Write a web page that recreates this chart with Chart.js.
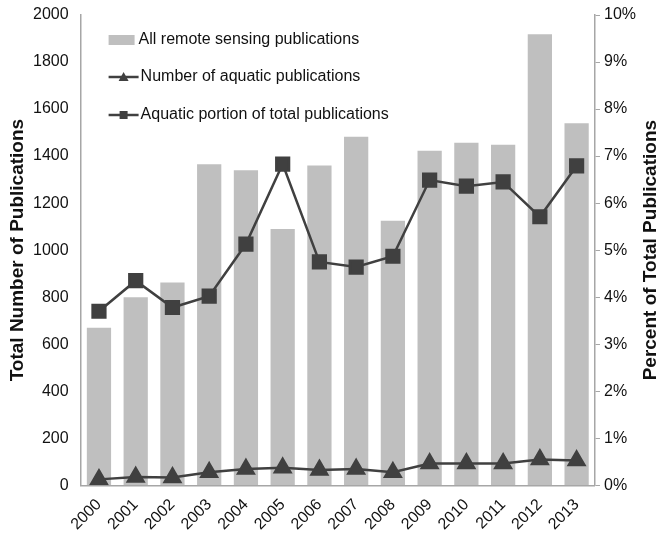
<!DOCTYPE html>
<html>
<head>
<meta charset="utf-8">
<script src="https://cdn.jsdelivr.net/npm/chart.js@4"></script>
<style>
  html, body { margin: 0; padding: 0; background: #fff; }
  #wrap { width: 665px; height: 542px; }
</style>
</head>
<body>
<div id="wrap"><canvas id="grafico" width="665" height="542"></canvas></div>
<script>
const years = ['2000', '2001', '2002', '2003', '2004', '2005', '2006', '2007', '2008', '2009', '2010', '2011', '2012', '2013'];
const totalPubs = [670, 800, 862, 1365, 1340, 1090, 1360, 1482, 1125, 1423, 1457, 1448, 1918, 1540];
const aquaticPubs = [25, 35, 33, 55, 69, 74, 65, 69, 55, 92, 93, 93, 110, 105];
const aquaticShare = [3.70, 4.35, 3.78, 4.02, 5.13, 6.83, 4.75, 4.64, 4.87, 6.49, 6.36, 6.45, 5.71, 6.79];
const leftTicks = ['0', '200', '400', '600', '800', '1000', '1200', '1400', '1600', '1800', '2000'];
const rightTicks = ['0%', '1%', '2%', '3%', '4%', '5%', '6%', '7%', '8%', '9%', '10%'];

const fonte = 'Arial, "Liberation Sans", sans-serif';
const escuro = '#404040';

// legenda desenhada à mão dentro da área do gráfico + títulos dos eixos
const extras = {
	id: 'extras',
	afterDraw(chart) {
		const ctx = chart.ctx;
		const area = chart.chartArea;
		ctx.save();
		ctx.font = '16px ' + fonte;
		ctx.fillStyle = '#111';
		ctx.textBaseline = 'middle';
		const x0 = area.left + 28;
		const ys = [area.top + 25, area.top + 62, area.top + 100];
		const nomes = chart.data.datasets.map(d => d.label);

		ctx.fillStyle = '#bfbfbf';
		ctx.fillRect(x0, ys[0] - 5, 26, 10);
		ctx.strokeStyle = escuro;
		ctx.lineWidth = 2.5;
		for (let i = 1; i < 3; i++) {
			ctx.beginPath();
			ctx.moveTo(x0, ys[i]);
			ctx.lineTo(x0 + 30, ys[i]);
			ctx.stroke();
		}
		ctx.fillStyle = escuro;
		ctx.beginPath();
		ctx.moveTo(x0 + 15, ys[1] - 5);
		ctx.lineTo(x0 + 20, ys[1] + 4);
		ctx.lineTo(x0 + 10, ys[1] + 4);
		ctx.closePath();
		ctx.fill();
		ctx.fillRect(x0 + 11, ys[2] - 4, 8, 8);

		ctx.fillStyle = '#111';
		ctx.fillText(nomes[0], x0 + 30, ys[0]);
		ctx.fillText(nomes[1], x0 + 32, ys[1]);
		ctx.fillText(nomes[2], x0 + 32, ys[2]);

		// os dois títulos, lidos de baixo para cima
		ctx.font = 'bold 19px ' + fonte;
		ctx.textAlign = 'center';
		const meio = (area.top + area.bottom) / 2;
		ctx.save();
		ctx.translate(18, meio);
		ctx.rotate(-Math.PI / 2);
		ctx.fillText('Total Number of Publications', 0, 0);
		ctx.restore();
		ctx.translate(651, meio);
		ctx.rotate(-Math.PI / 2);
		ctx.fillText('Percent of Total Publications', 0, 0);
		ctx.restore();
	}
};

const semFolgaTopo = s => { s.paddingTop = 0; };

const ctx = document.getElementById('grafico').getContext('2d');
const chart = new Chart(ctx, {
	data: {
		labels: years,
		datasets: [{
			type: 'bar',
			label: 'All remote sensing publications',
			data: totalPubs,
			backgroundColor: '#bfbfbf',
			barPercentage: 0.66,
			categoryPercentage: 1,
			yAxisID: 'y',
			order: 3
		}, {
			type: 'line',
			label: 'Number of aquatic publications',
			data: aquaticPubs,
			borderColor: escuro,
			backgroundColor: escuro,
			borderWidth: 2.5,
			pointStyle: 'triangle',
			pointRadius: 9,
			tension: 0,
			yAxisID: 'y',
			order: 1
		}, {
			type: 'line',
			label: 'Aquatic portion of total publications',
			data: aquaticShare,
			borderColor: escuro,
			backgroundColor: escuro,
			borderWidth: 2.5,
			pointStyle: 'rect',
			pointRadius: 9,
			tension: 0,
			yAxisID: 'y1',
			order: 2
		}]
	},
	options: {
		responsive: false,
		animation: false,
		layout: { padding: { top: 15, right: 25, left: 21, bottom: 6 } },
		plugins: {
			legend: { display: false },
			tooltip: { enabled: false }
		},
		scales: {
			x: {
				grid: { display: false },
				border: { color: '#a6a6a6', width: 1.5 },
				ticks: { color: '#111', font: { size: 16, family: fonte }, maxRotation: 45, minRotation: 45, padding: 2 }
			},
			y: {
				min: 0, max: 2000,
				afterBuildTicks: axis => { axis.ticks = leftTicks.map(v => ({ value: Number(v) })); },
				afterFit: semFolgaTopo,
				grid: { display: false, drawTicks: false },
				border: { color: '#a6a6a6', width: 1.5 },
				ticks: { color: '#111', font: { size: 16, family: fonte }, padding: 12, callback: (v, i) => leftTicks[i] }
			},
			y1: {
				position: 'right',
				min: 0, max: 10,
				afterBuildTicks: axis => { axis.ticks = rightTicks.map((t, i) => ({ value: i })); },
				afterFit: semFolgaTopo,
				grid: { drawOnChartArea: false, color: '#a6a6a6', tickLength: 5 },
				border: { color: '#a6a6a6', width: 1.5 },
				ticks: { color: '#111', font: { size: 16, family: fonte }, padding: 4, callback: (v, i) => rightTicks[i] }
			}
		}
	},
	plugins: [extras]
});
</script>
</body>
</html>
